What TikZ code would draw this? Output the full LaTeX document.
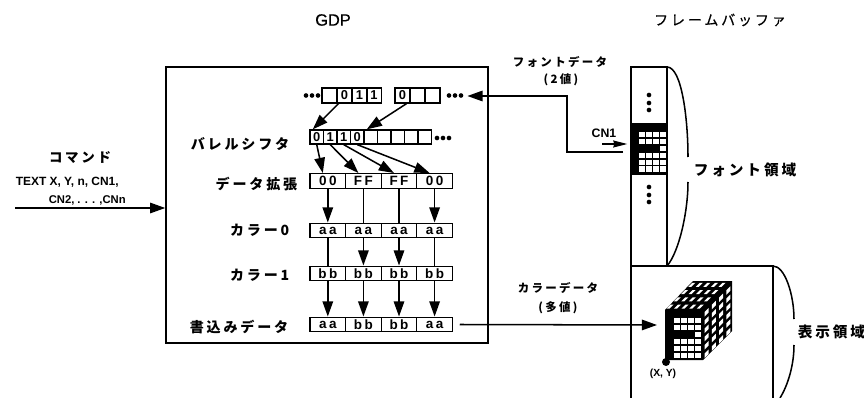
\documentclass[tikz,border=0pt]{standalone}
\usepackage{fontspec}
\setmainfont{Liberation Sans}
\newfontfamily\jpfont[LetterSpace=20]{Noto Sans CJK JP}
\newfontfamily\jptitlefont[LetterSpace=20, FakeBold=0.6]{Noto Sans CJK JP}
\newfontfamily\titlefont[FakeBold=0.4]{Liberation Sans}
\newfontfamily\cellfont[LetterSpace=18]{Liberation Sans}
\usetikzlibrary{arrows.meta, positioning, calc}

%% white squares of the glyph, x/y of the first square, pitch x/y
\newcommand{\glyphgrid}[4]{
  \foreach \r in {0,1,3,4,5}
    \foreach \c in {0,1,2,3}
      \fill[white] ({#1+#3*\c},{#2+#4*\r}) rectangle ++(6,5.2);
  \fill[white] ({#1+#3*3},{#2+#4*2}) rectangle ++(6,5.2);
}

\begin{document}
\begin{tikzpicture}[
    x=0.03cm, y=-0.03cm,
    line width=1.3pt,
    bitcell/.style={draw, line width=1.1pt, minimum width=0.405cm, minimum height=0.42cm, inner sep=0pt, font=\cellfont\bfseries\fontsize{11}{12}\selectfont},
    topcell/.style={bitcell, minimum width=0.445cm, minimum height=0.45cm},
    bytecell/.style={bitcell, minimum width=1.07cm, minimum height=0.44cm, font=\cellfont\bfseries\fontsize{11.5}{12}\selectfont},
    dotnode/.style={circle, fill=black, inner sep=0pt, minimum size=0.14cm},
    rowlbl/.style={anchor=east, inner sep=0pt, font=\jpfont\bfseries\fontsize{12}{14}\selectfont},
    lbl/.style={inner sep=0pt, font=\jpfont\bfseries\fontsize{9.8}{12}\selectfont},
    arealbl/.style={anchor=west, inner sep=0pt, font=\jpfont\bfseries\fontsize{12.5}{14}\selectfont},
    latinlbl/.style={inner sep=0pt, font=\bfseries\fontsize{10.2}{12}\selectfont},
    arr/.style={-{Stealth[length=13pt, width=9pt, inset=0pt]}},
    arrsmall/.style={-{Stealth[length=12pt, width=6pt, inset=1pt]}},
    wire/.style={-}
  ]
    \useasboundingbox (0,0) rectangle (864,398);

    %% ── titles ──
    \node[inner sep=0pt, font=\titlefont\fontsize{14}{16}\selectfont] (gdptitle) at (333, 20) {GDP};
    \node[inner sep=0pt, font=\jptitlefont\fontsize{12}{14}\selectfont] (fbtitle) at (720, 20) {フレームバッファ};

    %% ── GDP ──
    \node[draw, minimum width=9.66cm, minimum height=8.28cm] (gdp) at (327, 205) {};

    %% ── command ──
    \node[inner sep=0pt, font=\jpfont\bfseries\fontsize{11.5}{14}\selectfont] (cmd) at (80, 158) {コマンド};
    \node[latinlbl, anchor=west] (cmdtext) at (15, 182) {TEXT X, Y, n, CN1,};
    \node[latinlbl, anchor=west, font=\bfseries\fontsize{9.6}{12}\selectfont] (cmdargs) at (48, 200) {CN2, . . . ,CNn};
    \coordinate (cmdin) at (15, 208);
    \draw[arr] (cmdin) -- (cmdin -| gdp.west);

    %% ── row labels ──
    \node[rowlbl] (barrellbl) at (290, 144) {バレルシフタ};
    \node[rowlbl] (extlbl)    at (298, 184) {データ拡張};
    \node[rowlbl] (col0lbl)   at (290, 230) {カラー0};
    \node[rowlbl] (col1lbl)   at (290, 275) {カラー1};
    \node[rowlbl] (writelbl)  at (289, 327) {書込みデータ};

    %% ── font data words ──
    \foreach \i/\x/\t in {1/329.5/{}, 2/344.5/0, 3/359.5/1, 4/374/1}
      \node[topcell] (wa\i) at (\x, 95.5) {\t};
    \foreach \i/\x/\t in {1/402.5/0, 2/417.5/{}, 3/432.5/{}}
      \node[topcell] (wb\i) at (\x, 95.5) {\t};
    \foreach \i/\x in {1/306, 2/312, 3/318}
      \node[dotnode] (dl\i) at (\x, 95.5) {};
    \foreach \i/\x in {1/449, 2/455, 3/461}
      \node[dotnode] (dr\i) at (\x, 95.5) {};

    %% ── barrel shifter ──
    \foreach \i/\t in {1/0, 2/1, 3/1, 4/0, 5/{}, 6/{}, 7/{}, 8/{}, 9/{}}
      \node[bitcell] (bar\i) at ({310+13.5*(\i-0.5)}, 137) {\t};
    \foreach \i/\x in {1/437, 2/443, 3/449}
      \node[dotnode] (db\i) at (\x, 138) {};

    %% ── byte rows ──
    \foreach \i/\t in {1/00, 2/FF, 3/FF, 4/00}
      \node[bytecell] (ext\i) at ({310+35.6*(\i-0.5)}, 181) {\t};
    \foreach \i in {1,2,3,4}
      \node[bytecell] (colz\i) at ({310+35.6*(\i-0.5)}, 230.5) {aa};
    \foreach \i in {1,2,3,4}
      \node[bytecell] (colo\i) at ({310+35.6*(\i-0.5)}, 273.5) {bb};
    \foreach \i/\t in {1/aa, 2/bb, 3/bb, 4/aa}
      \node[bytecell] (wr\i) at ({310+35.6*(\i-0.5)}, 324.5) {\t};

    %% ── shifter arrows ──
    \draw[arr] ([xshift=-0.18cm]wa2.south) -- ([xshift=-0.12cm]bar1.north);
    \draw[arr] ([xshift=0.12cm]wb1.south) -- ([xshift=-0.12cm]bar5.north);
    \draw[arr] (bar1.south) -- ([xshift=-0.15cm]ext1.north);
    \draw[arr] (bar2.south) -- ([xshift=-0.15cm]ext2.north);
    \draw[arr] (bar3.south) -- ([xshift=-0.15cm]ext3.north);
    \draw[arr] (bar4.south) -- ([xshift=-0.15cm]ext4.north);

    %% ── colour expansion ──
    \draw[arr]  (ext1) -- (colz1);
    \draw[wire] (ext2) -- (colz2);
    \draw[wire] (ext3) -- (colz3);
    \draw[arr]  (ext4) -- (colz4);
    \draw[wire] (colz1) -- (colo1);
    \draw[arr]  (colz2) -- (colo2);
    \draw[arr]  (colz3) -- (colo3);
    \draw[wire] (colz4) -- (colo4);
    \foreach \i in {1,2,3,4}
      \draw[arr] (colo\i) -- (wr\i);

    %% ── frame buffer ──
    \coordinate (fbtl) at (631, 67);
    \coordinate (fbtr) at (667, 67);
    \coordinate (disptl) at (631, 266);
    \coordinate (dispm) at (667, 266);
    \coordinate (disptr) at (773, 266);
    \draw (631, 398) -- (fbtl) -- (fbtr) -- (dispm);
    \draw (disptl) -- (disptr) -- (773, 398);
    \node[fill=black, inner sep=0pt, minimum width=1.08cm, minimum height=1.56cm] (fontband) at (649, 149) {};
    \glyphgrid{638.5}{132}{7.2}{6.9}
    \foreach \i/\y in {1/95, 2/103, 3/110, 4/187, 5/195, 6/202}
      \node[dotnode] (fd\i) at (649, \y) {};

    %% ── area curves ──
    \node[arealbl] (fontarea) at (693, 170) {フォント領域};
    \node[arealbl] (disparea) at (797, 332) {表示領域};
    \draw (fbtr) .. controls (682,67) and (688,120) .. (688,157);
    \draw (688,182) .. controls (688,212) and (679,252) .. (dispm);
    \draw (disptr) .. controls (785,266) and (794,295) .. (794,319);
    \draw (794,345) .. controls (794,365) and (788,385) .. (780,398);

    %% ── font data connector ──
    \node[lbl] (fontlbl) at (560, 62) {フォントデータ};
    \node[lbl] (fontlblb) at (561, 80) {(2値)};
    \coordinate (fontin) at (623, 152);
    \coordinate (fontturn) at (567, 96);
    \draw[arr] (fontin) -| (fontturn) -- ([xshift=0.1cm]dr3.east |- fontturn);
    \node[inner sep=0pt, font=\bfseries\fontsize{10.5}{12}\selectfont] (cnlbl) at (604, 133) {CN1};
    \coordinate (cnin) at (602, 144);
    \draw[arrsmall, line width=0.9pt] (cnin) -- ([xshift=-0.09cm]cnin -| fontband.west);

    %% ── colour data connector ──
    \node[lbl] (collbl) at (558, 288) {カラーデータ};
    \node[lbl] (collblb) at (558, 308) {(多値)};
    \coordinate (cubein) at (657, 325);
    \draw[arr] ([xshift=0.2cm]wr4.east) -- (cubein);

    %% ── cube ──
    \fill (665,310) -- (693,281) -- (732,281) -- (732,331) -- (703,360) -- (665,360) -- cycle;
    \foreach \i in {0,1,2,3,4}
      \foreach \j in {0,1,2,3}
        \fill[white, shift={({665+7.6*\i+7.25*\j},{310-7.25*\j})}] (1.5,-1.5) -- ++(3,0) -- ++(4,-4) -- ++(-3,0) -- cycle;
    \foreach \j in {0,1,2,3}
      \foreach \k in {0,1,2,3,4,5}
        \fill[white, shift={({703+7.25*\j},{310-7.25*\j+8.3*\k})}] (1.5,2) -- ++(4,-4) -- ++(0,4.5) -- ++(-4,4) -- cycle;
    \glyphgrid{673.5}{318}{7.2}{7}
    \node[circle, fill=black, inner sep=0pt, minimum size=0.24cm] (origin) at (666, 362) {};
    \node[inner sep=0pt, font=\bfseries\fontsize{8.8}{10}\selectfont] (originlbl) at (663, 374) {(X, Y)};

\end{tikzpicture}
\end{document}
